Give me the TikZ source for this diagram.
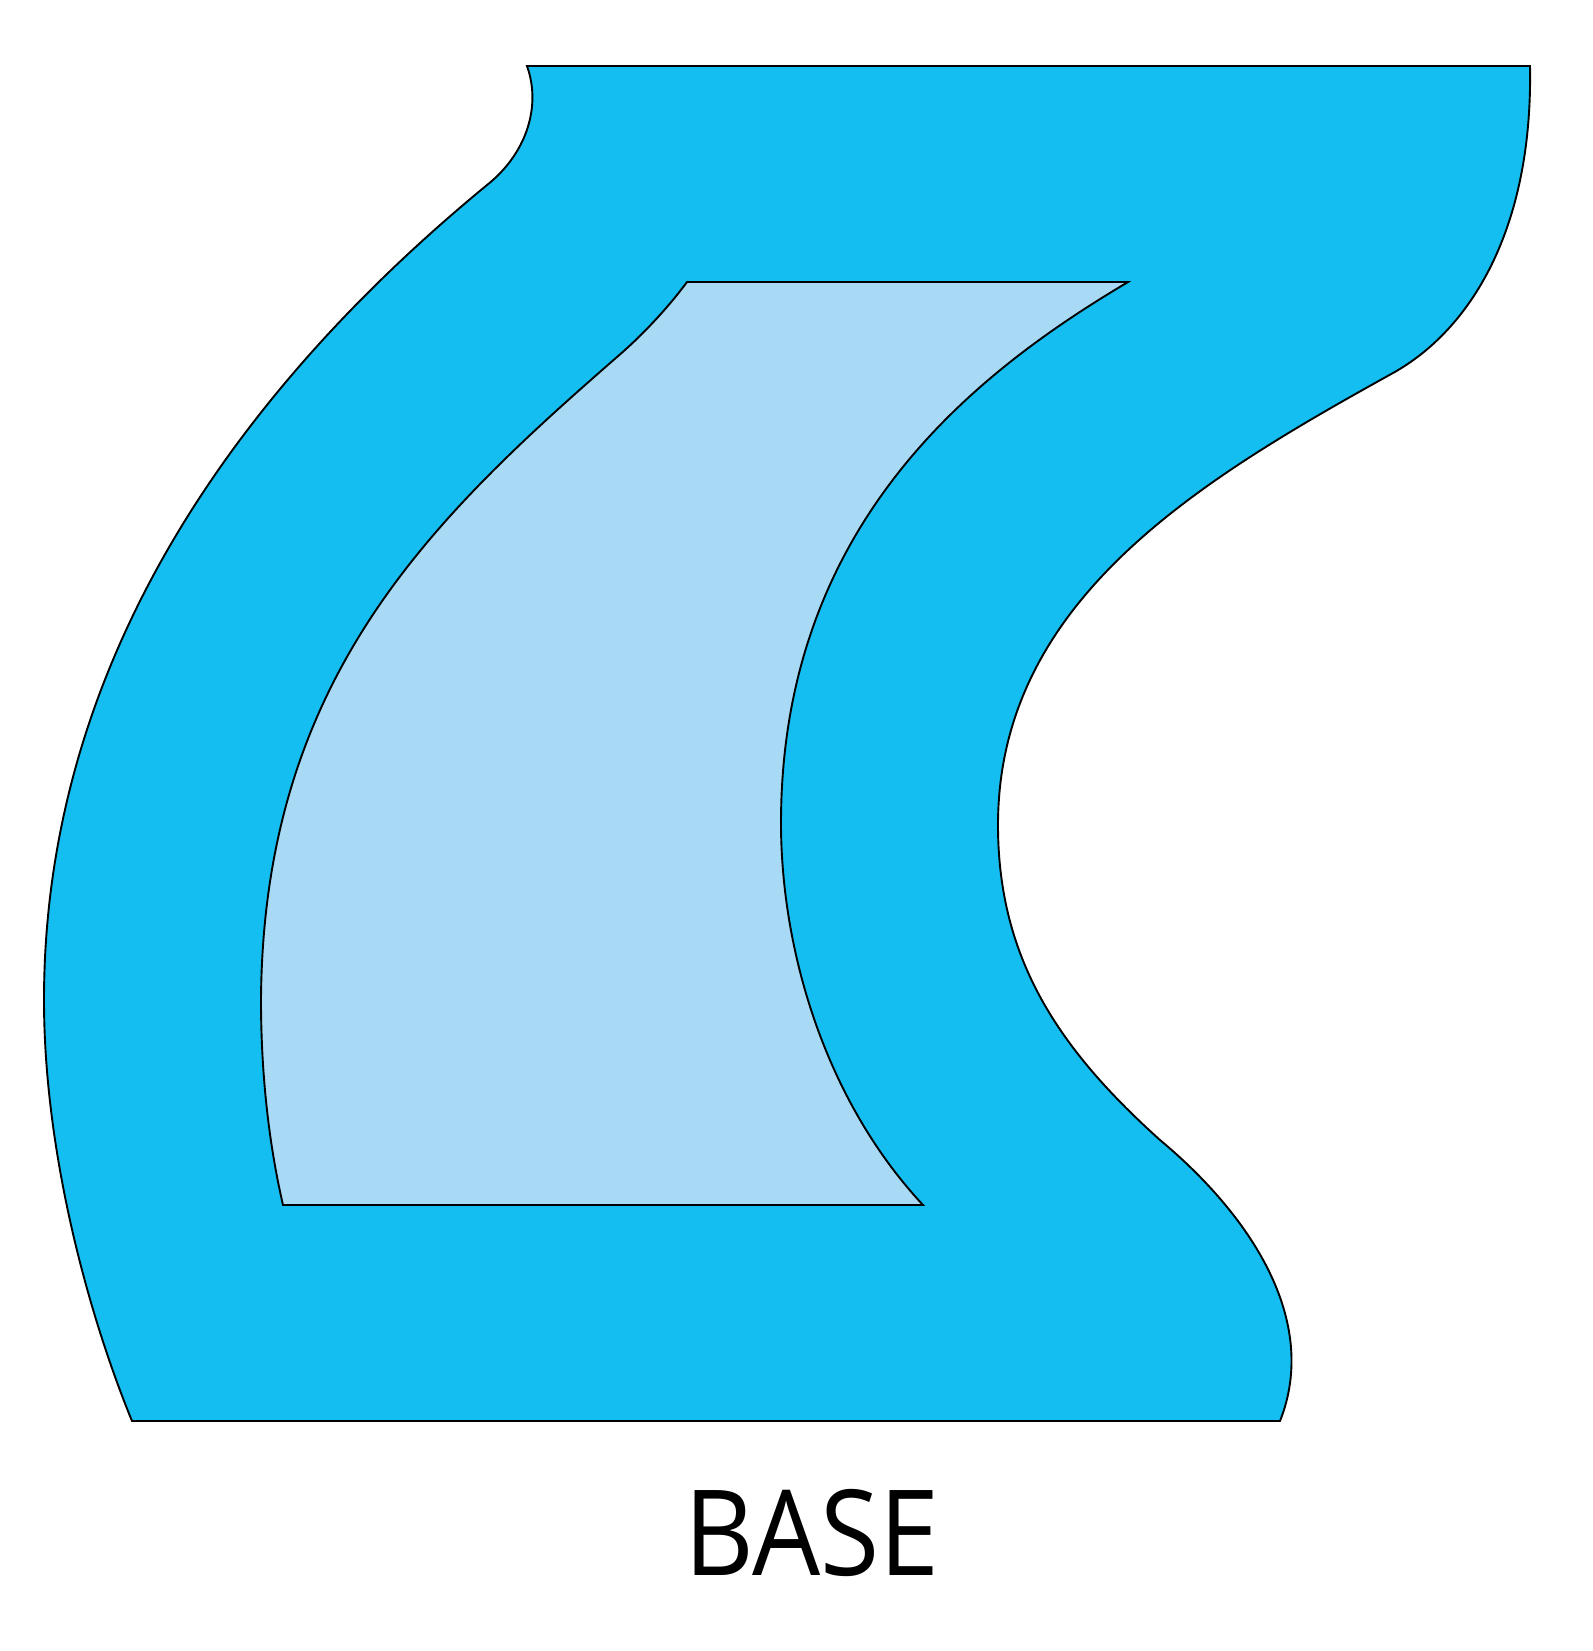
\documentclass[tikz,border=0pt]{standalone}
\usepackage{fontspec}
\newfontfamily\labelfont{Open Sans}
\definecolor{outerblue}{HTML}{15BEF0}
\definecolor{innerblue}{HTML}{A9DAF5}
\begin{document}
\begin{tikzpicture}[x=0.5pt,y=-0.5pt,
  outline/.style={draw=black, line width=0.95pt, line join=miter},
  caption/.style={font=\labelfont\fontsize{59.5}{60}\selectfont, anchor=base, inner sep=0pt}]
\useasboundingbox (0,0) rectangle (1593,1651);
\fill[white] (0,0) rectangle (1593,1651);
% outer profile
\path[outline, fill=outerblue] (527,66) -- (1530,66)
  .. controls (1533,230) and (1470,330) .. (1393,373)
  .. controls (1200,480) and (998,600) .. (998,825)
  .. controls (998,960) and (1060,1050) .. (1160,1140)
  .. controls (1250,1215) and (1320,1320) .. (1280,1421)
  -- (132,1421)
  .. controls (87,1311) and (44,1150) .. (44,1000)
  .. controls (44,650) and (250,380) .. (487,185)
  .. controls (525,155) and (542,108) .. (527,66) -- cycle;
% inner profile
\path[outline, fill=innerblue] (687,282) -- (1128,282)
  .. controls (980,370) and (781,520) .. (781,823)
  .. controls (781,950) and (825,1100) .. (923,1205)
  -- (283,1205)
  .. controls (268,1140) and (261,1070) .. (261,1000)
  .. controls (263,680) and (430,520) .. (617,357)
  .. controls (645,333) and (670,305) .. (687,282) -- cycle;
\node[caption] (basetext) at (812,1575) {\scalebox{0.905}[1]{BASE}};
\end{tikzpicture}
\end{document}
